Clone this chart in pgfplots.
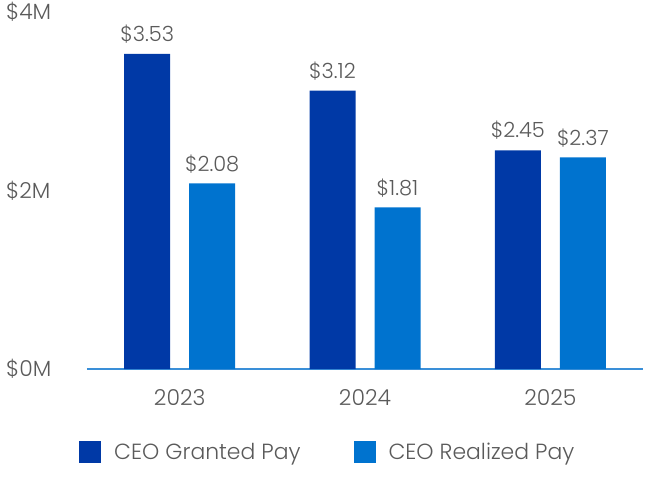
\documentclass[border=0pt]{standalone}
\usepackage{pgfplots}
\pgfplotsset{compat=1.18}
\usepackage{fontspec}
\setmainfont{Poppins}[UprightFont=* Light]
\definecolor{granted}{HTML}{0039A6}
\definecolor{realized}{HTML}{0073CF}
\definecolor{baseline}{HTML}{3A8FD8}
\definecolor{txt}{HTML}{5A5A5A}
\begin{document}
\begin{tikzpicture}
\useasboundingbox (-87bp,-111bp) rectangle (565bp,369bp);
\begin{axis}[
  scale only axis,
  width=556bp, height=357bp,
  xmin=-0.5, xmax=2.5,
  ymin=0, ymax=4,
  ybar=19bp, bar width=46bp,
  xtick={0,1,2},
  xticklabels={2023,2024,2025},
  ytick={0,2,4},
  yticklabels={\$0M,\$2M,\$4M},
  major tick length=0pt,
  axis lines*=left,
  y axis line style={draw=none},
  x axis line style={draw=baseline, line width=1.6bp, -},
  xticklabel style={font=\fontsize{22}{26}\selectfont, text=txt, yshift=-17bp},
  yticklabel style={font=\fontsize{22}{26}\selectfont, text=txt, anchor=west, xshift=-81bp, inner sep=0pt},
  /pgf/number format/assume math mode=true,
  nodes near coords={\$\pgfmathprintnumber[fixed,precision=2,fixed zerofill]{\pgfplotspointmeta}},
  nodes near coords style={font=\fontsize{21}{25}\selectfont, text=txt, anchor=south, yshift=7bp},
  legend columns=2,
  legend style={draw=none, at={(0.433,-0.2325)}, anchor=center,
    font=\fontsize{22}{26}\selectfont, text=txt,
    /tikz/every even column/.append style={column sep=51bp}},
  legend image code/.code={\fill[#1] (0bp,-11bp) rectangle (22bp,11bp);},
  legend cell align=left,
  clip=false,
]
\addplot[fill=granted, draw=none]
  coordinates {(0,3.53) (1,3.12) (2,2.45)};
\addplot[fill=realized, draw=none]
  coordinates {(0,2.08) (1,1.81) (2,2.37)};
\legend{\hspace{11bp}CEO Granted Pay, \hspace{11bp}CEO Realized Pay}
\end{axis}
\end{tikzpicture}
\end{document}
